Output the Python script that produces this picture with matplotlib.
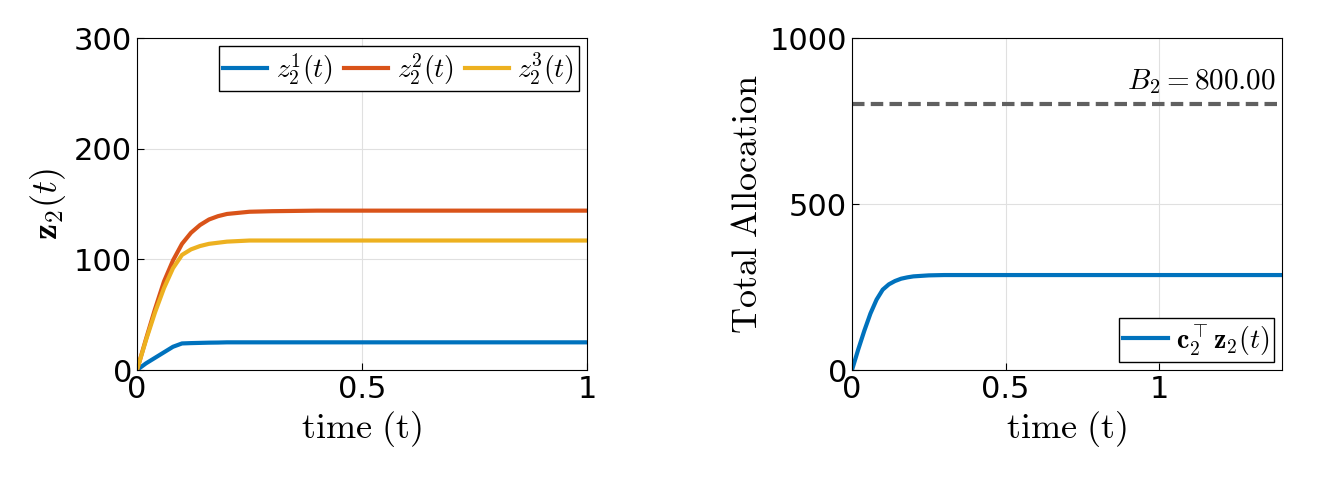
import matplotlib.pyplot as plt

plt.rcParams['mathtext.fontset'] = 'cm'
plt.rcParams['font.family'] = 'DejaVu Sans'

# data
t = [0, 0.02, 0.04, 0.06, 0.08, 0.1, 0.12, 0.14, 0.16, 0.18, 0.2, 0.25, 0.3, 0.4, 0.5, 1.0]
z1 = [0, 6, 11, 16, 21, 24, 24.3, 24.5, 24.7, 24.8, 25, 25, 25, 25, 25, 25]
z2 = [0, 28, 55, 80, 99, 114, 124, 131, 136, 139, 141, 143, 143.5, 144, 144, 144]
z3 = [0, 27, 52, 74, 92, 104, 109, 112, 114, 115, 116, 117, 117, 117, 117, 117]
t_tot = [0, 0.02, 0.04, 0.06, 0.08, 0.1, 0.12, 0.14, 0.16, 0.18, 0.2, 0.25, 0.3, 0.5, 1.0, 1.4]
tot = [0, 61, 118, 170, 212, 242, 258, 268, 275, 279, 282, 285, 286, 286, 286, 286]
budget = 800.0

blue, red, yel = '#0072BD', '#D95319', '#EDB120'

fig = plt.figure(figsize=(13.36, 4.87), dpi=100)
ax1 = fig.add_axes([137/1336, 1-370/487, 450/1336, 332/487])
ax2 = fig.add_axes([852/1336, 1-370/487, 430/1336, 332/487])

ax1.plot(t, z1, color=blue, lw=3, label=r'$z_2^1(t)$')
ax1.plot(t, z2, color=red, lw=3, label=r'$z_2^2(t)$')
ax1.plot(t, z3, color=yel, lw=3, label=r'$z_2^3(t)$')
ax1.set_xlim(0, 1)
ax1.set_ylim(0, 300)
ax1.set_xticks([0, 0.5, 1])
ax1.set_xticklabels(['0', '0.5', '1'])
ax1.set_yticks([0, 100, 200, 300])
ax1.set_xlabel(r'$\mathrm{time\ (t)}$', fontsize=26)
ax1.set_ylabel(r'$\mathbf{z}_2(t)$', fontsize=26)
ax1.legend(loc='upper right', ncol=3, fontsize=20, fancybox=False, edgecolor='k',
           handlelength=1.6, columnspacing=0.4, handletextpad=0.3,
           borderpad=0.15, borderaxespad=0.3, framealpha=1)

ax2.plot(t_tot, tot, color=blue, lw=3, label=r'$\mathbf{c}_2^{\top}\mathbf{z}_2(t)$')
ax2.axhline(budget, color='#606060', lw=3, ls=(0, (3, 1.5)))
ax2.text(1.38, budget + 25, r'$B_2 = %.2f$' % budget, ha='right', va='bottom', fontsize=21)
ax2.set_xlim(0, 1.4)
ax2.set_ylim(0, 1000)
ax2.set_xticks([0, 0.5, 1])
ax2.set_xticklabels(['0', '0.5', '1'])
ax2.set_yticks([0, 500, 1000])
ax2.set_xlabel(r'$\mathrm{time\ (t)}$', fontsize=26)
ax2.set_ylabel(r'$\mathrm{Total\ Allocation}$', fontsize=26)
ax2.legend(loc='lower right', fontsize=20, fancybox=False, edgecolor='k',
           handlelength=1.6, handletextpad=0.3, borderpad=0.15,
           borderaxespad=0.3, framealpha=1)

for ax in (ax1, ax2):
    ax.grid(True, color='#e0e0e0', lw=0.8)
    ax.tick_params(labelsize=22, direction='in', length=5)
    for s in ax.spines.values():
        s.set_linewidth(0.8)

fig.savefig('out.png', dpi=100)
